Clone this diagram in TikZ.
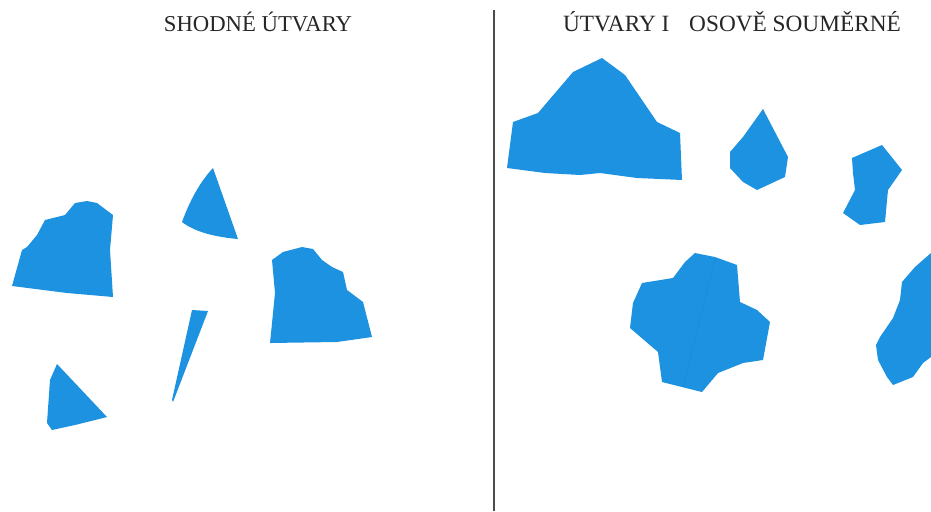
\documentclass[tikz,border=0pt]{standalone}
\usepackage{fontspec}
\setmainfont{Liberation Serif}
\usetikzlibrary{positioning}
\definecolor{papir}{RGB}{28,146,224}

\begin{document}
\begin{tikzpicture}[x=1pt, y=-1pt,
        piece/.style={fill=papir, draw=none},
        title/.style={font=\fontsize{22.7}{26}\selectfont, text=black!85, inner sep=0pt},
        divider/.style={draw=black!70, line width=1.2pt}]
      \useasboundingbox (0,0) rectangle (931,511);
      \node[title] (left) at (258,22) {SHODNÉ ÚTVARY};
      \node[title, font=\fontsize{23.3}{26}\selectfont] (right) at (732,22)
            {ÚTVARY I\hspace{0.85em}OSOVĚ SOUMĚRNÉ};
      \coordinate (top) at (494,10);
      \coordinate (bottom) at (494,511);
      \draw[divider] (top) -- (bottom);
      % shodne utvary
      \fill[piece] (12,286) -- (22,250) -- (27,247) -- (37,235) -- (45,220) -- (53,218)
            -- (65,215) -- (75,203) -- (87,201) -- (97,203) -- (113,215) -- (110,250)
            -- (113,297) -- (67,293) -- cycle;
      \fill[piece] (213,168) .. controls (200,182) and (190,200) .. (182,222)
            .. controls (195,232) and (215,237) .. (238,239) -- cycle;
      \fill[piece] (272,260) -- (283,252) -- (302,247) -- (313,249) -- (322,260)
            -- (332,267) -- (343,272) -- (347,290) -- (363,302) -- (372,337)
            -- (337,342) -- (270,343) -- (275,293) -- cycle;
      \fill[piece] (192,310) -- (208,311) -- (173,402) -- (172,400) -- cycle;
      \fill[piece] (57,364) -- (107,417) -- (75,425) -- (52,430) -- (47,423)
            -- (50,380) -- cycle;
      % osove soumerne
      \fill[piece] (507,168) -- (513,122) -- (538,113) -- (573,72) -- (602,58)
            -- (625,75) -- (657,122) -- (680,133) -- (682,180) -- (637,178)
            -- (600,173) -- (580,175) -- (545,173) -- cycle;
      \fill[piece] (763,109) -- (788,157) -- (785,177) -- (757,190) -- (743,182)
            -- (730,168) -- (730,152) -- (743,137) -- cycle;
      \fill[piece] (852,158) -- (882,145) -- (902,170) -- (888,190) -- (885,222)
            -- (860,225) -- (843,213) -- (855,190) -- (853,173) -- cycle;
      \fill[piece] (695,253) -- (715,257) -- (737,265) -- (740,302) -- (757,310)
            -- (770,322) -- (763,360) -- (743,363) -- (718,373) -- (702,392)
            -- (662,382) -- (658,352) -- (630,328) -- (633,303) -- (642,283)
            -- (673,278) -- (685,262) -- cycle;
      \draw[papir!93!black, line width=0.3pt] (715,258) -- (683,387);
      \fill[piece] (931,253) -- (915,267) -- (902,282) -- (900,300) -- (893,318)
            -- (880,337) -- (876,345) -- (878,360) -- (887,377) -- (893,385)
            -- (913,377) -- (923,363) -- (931,357) -- cycle;
    \end{tikzpicture}
\end{document}
